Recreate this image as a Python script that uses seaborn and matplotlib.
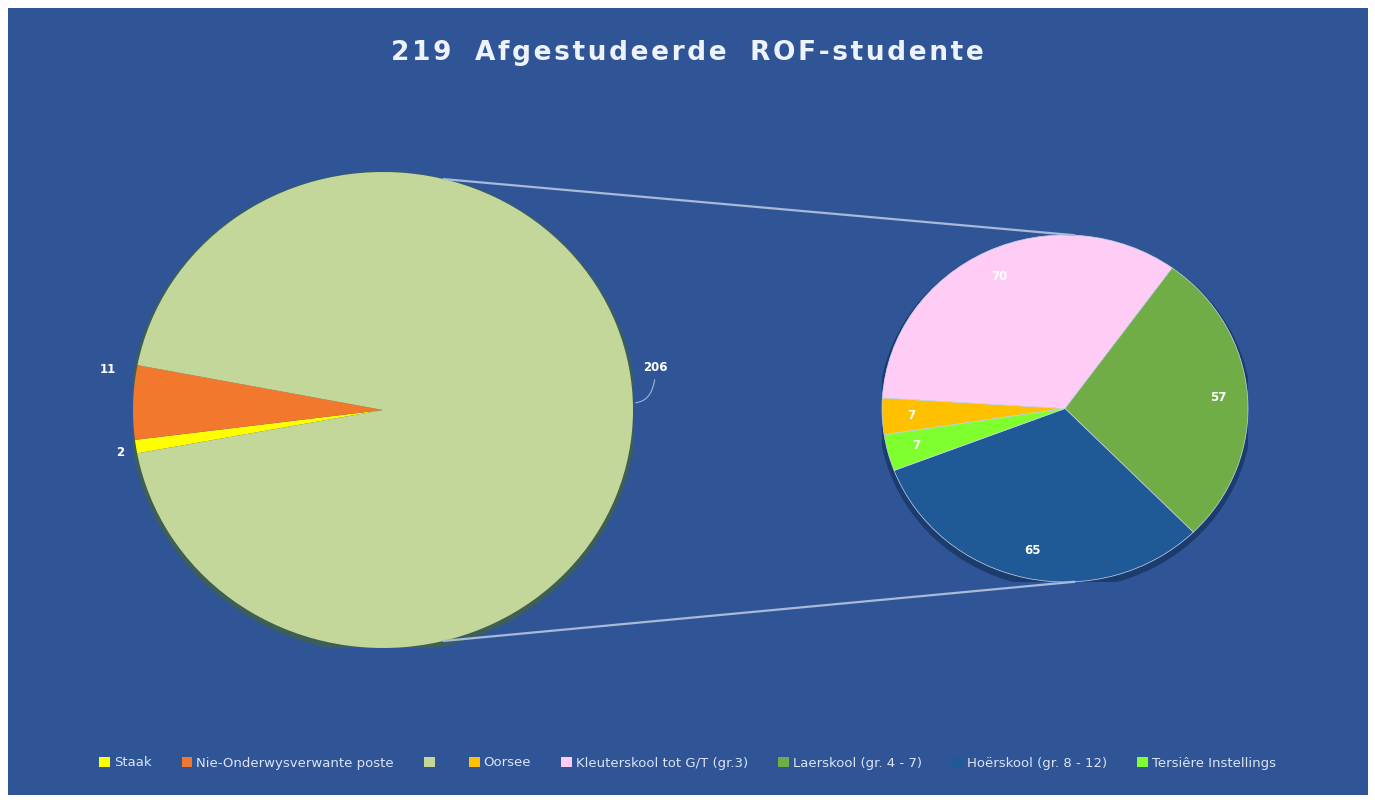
import matplotlib
matplotlib.use("Agg")
import matplotlib.pyplot as plt
import seaborn as sns
import numpy as np
from matplotlib.patches import Patch, Rectangle, Ellipse, ConnectionPatch

# data
main_labels = ["Staak", "Nie-Onderwysverwante poste", ""]
main_values = [2, 11, 206]
main_colors = ["#FFFF00", "#F2782E", "#C4D79B"]

sub_labels = ["Oorsee", "Kleuterskool tot G/T (gr.3)", "Laerskool (gr. 4 - 7)",
              "Hoërskool (gr. 8 - 12)", "Tersiêre Instellings"]
sub_values = [7, 70, 57, 65, 7]
sub_colors = ["#FFC000", "#FFCCF6", "#70AD47", "#1F5A96", "#80FF2E"]

title = "219 Afgestudeerde ROF-studente"

sns.set_style("white")
plt.rcParams["font.family"] = ["DejaVu Sans"]

bg = "#2F5597"
fig = plt.figure(figsize=(13.75, 8.02), dpi=100)
fig.patch.set_facecolor("white")
fig.add_artist(Rectangle((8 / 1375, 1 - 795 / 802), 1360 / 1375, 787 / 802,
                         transform=fig.transFigure, facecolor=bg, edgecolor="none", zorder=0))

# main pie
ax1 = fig.add_axes([133 / 1375, 1 - 648 / 802, 500 / 1375, 476 / 802])
ax1.set_facecolor("none")
ax1.add_patch(Ellipse((0.0, -0.01), 2.025, 2.025, facecolor="#3E5F55", edgecolor="none", zorder=0))
w1, _ = ax1.pie(main_values, colors=main_colors, startangle=190.5, counterclock=False,
                wedgeprops=dict(edgecolor="none", linewidth=0))
ax1.set_aspect("auto")
ax1.set_xlim(-1, 1)
ax1.set_ylim(-1, 1)

lab_style = dict(color="white", fontsize=8.5, fontweight="bold", ha="center", va="center")
ax1.text(-1.1, 0.17, str(main_values[1]), **lab_style)
ax1.text(-1.05, -0.18, str(main_values[0]), **lab_style)
ax1.annotate(str(main_values[2]), xy=(1.0, 0.03), xytext=(1.09, 0.18), **lab_style,
             arrowprops=dict(arrowstyle="-", color="#9FB4D8", lw=0.8,
                             connectionstyle="angle3,angleA=90,angleB=0"))

# sub pie
ax2 = fig.add_axes([882 / 1375, 1 - 582 / 802, 366 / 1375, 347 / 802])
ax2.set_facecolor("none")
ax2.add_patch(Ellipse((0.0, -0.02), 2.04, 2.04, facecolor="#1C3C6E", edgecolor="none", zorder=0))
w2, _, autotexts = ax2.pie(sub_values, colors=sub_colors, startangle=188.7, counterclock=False,
                           autopct=lambda p: "{:.0f}".format(p * sum(sub_values) / 100),
                           pctdistance=0.84,
                           wedgeprops=dict(edgecolor="#C9D6EE", linewidth=0.5))
for t in autotexts:
    t.set_color("white")
    t.set_fontsize(8.5)
    t.set_fontweight("bold")
ax2.set_aspect("auto")
ax2.set_xlim(-1, 1)
ax2.set_ylim(-1, 1)

# connector lines
for a1, a2 in [(76, 87), (-76, -87)]:
    con = ConnectionPatch(xyA=(np.cos(np.radians(a1)), np.sin(np.radians(a1))), coordsA=ax1.transData,
                          xyB=(np.cos(np.radians(a2)), np.sin(np.radians(a2))), coordsB=ax2.transData,
                          color="#A9B9D9", lw=1.6)
    fig.add_artist(con)

# wide letter spacing like the original
spaced = "\u200a".join(title).replace(" ", "  ")
fig.text(0.5, 1 - 53 / 802, spaced, color="#EEF2FA", fontsize=19, fontweight="bold",
         ha="center", va="center")

handles = [Patch(facecolor=c, edgecolor="none") for c in main_colors + sub_colors]
labels = main_labels + sub_labels
leg = fig.legend(handles, labels, loc="center", bbox_to_anchor=(0.5, 1 - 763 / 802), ncol=8,
                 frameon=False, fontsize=9.5, handlelength=0.8, handleheight=0.8,
                 handletextpad=0.3, columnspacing=2.3)
for t in leg.get_texts():
    t.set_color("#DCE4F4")

fig.savefig("out.png", dpi=100, facecolor=fig.get_facecolor())
